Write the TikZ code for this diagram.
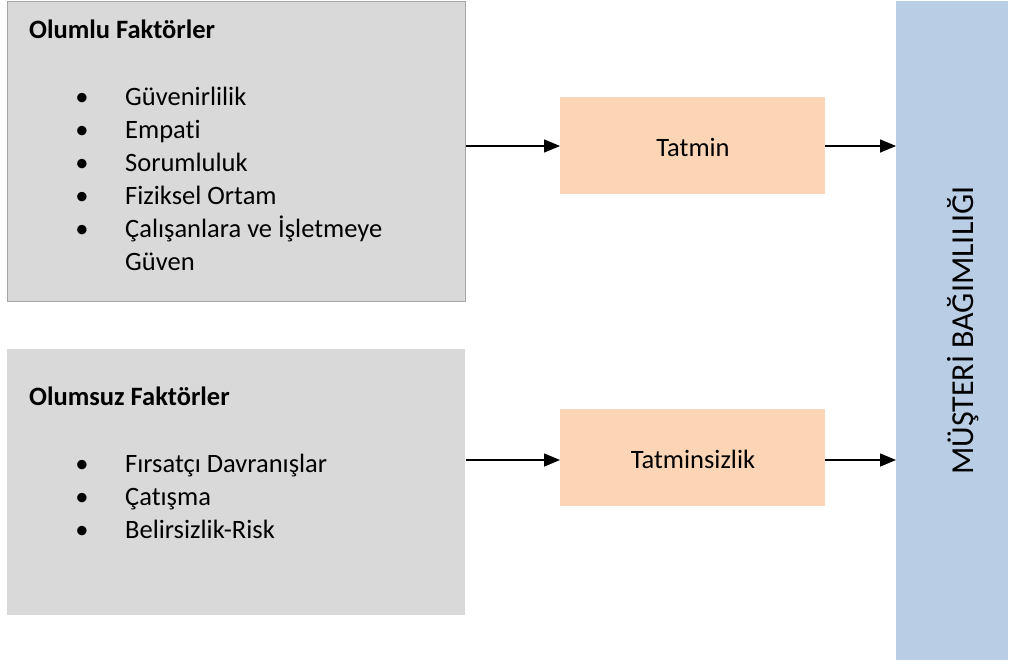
\documentclass[tikz,border=0pt]{standalone}
\usepackage{fontspec}
\setmainfont{Carlito}[Ligatures={NoCommon,NoDiscretionary,NoRare}]
\usetikzlibrary{arrows.meta}
\definecolor{graybox}{HTML}{D9D9D9}
\definecolor{grayline}{HTML}{A6A6A6}
\definecolor{peach}{HTML}{FBD5B5}
\definecolor{bluebox}{HTML}{B9CDE5}
\newcommand{\bodyfont}{\fontsize{26.5}{33}\selectfont}
\tikzset{
  factorbox/.style={fill=graybox, draw=grayline, line width=0.8pt, anchor=north west, inner sep=0pt},
  midbox/.style={fill=peach, anchor=north west, inner sep=0pt, minimum width=265pt, minimum height=97pt},
  txt/.style={font=\bodyfont, inner sep=0pt, anchor=base west},
  bul/.style={font=\bodyfont, inner sep=0pt, anchor=base},
  conn/.style={line width=1.5pt, -{Triangle[length=16pt,width=13pt]}}
}
\begin{document}
\begin{tikzpicture}[x=1pt,y=-1pt]
\useasboundingbox (0,0) rectangle (1010,664);
% boxes
\node[factorbox, minimum width=458pt, minimum height=300pt] (pos) at (7,1) {};
\node[factorbox, draw=none, minimum width=458pt, minimum height=266pt] (neg) at (7,349) {};
\node[midbox] (tat) at (560,97) {};
\node[midbox] (tats) at (560,409) {};
\node[fill=bluebox, anchor=north west, inner sep=0pt, minimum width=112pt, minimum height=659pt] (mb) at (896,1) {};
% texts
\node[txt, font=\bodyfont\bfseries] (t1) at (29,38) {Olumlu Faktörler};
\foreach \y/\t [count=\i] in {105/Güvenirlilik, 138/Empati, 171/Sorumluluk, 204/Fiziksel Ortam, 237/Çalışanlara ve İşletmeye, 270/Güven}{
  \node[txt] (p\i) at (125,\y) {\t};
}
\foreach \y [count=\i] in {105,138,171,204,237}{
  \node[bul] (pb\i) at (82,\y) {•};
}
\node[txt, font=\bodyfont\bfseries] (t2) at (29,405) {Olumsuz Faktörler};
\foreach \y/\t [count=\i] in {472/Fırsatçı Davranışlar, 505/Çatışma, 538/Belirsizlik-Risk}{
  \node[txt] (n\i) at (125,\y) {\t};
  \node[bul] (nb\i) at (82,\y) {•};
}
\node[font=\bodyfont, inner sep=0pt, anchor=base] (tl) at (693,156) {Tatmin};
\node[font=\bodyfont, inner sep=0pt, anchor=base] (tsl) at (693,468) {Tatminsizlik};
\node[font=\fontsize{32}{38}\selectfont, inner sep=0pt, rotate=90, anchor=base] (mbl) at (973,330.5) {MÜŞTERİ BAĞIMLILIĞI};
% connectors
\draw[conn] (pos.east |- 0,146) -- (tat.west |- 0,146);
\draw[conn] (tat.east |- 0,146) -- (mb.west |- 0,146);
\draw[conn] (neg.east |- 0,460) -- (tats.west |- 0,460);
\draw[conn] (tats.east |- 0,460) -- (mb.west |- 0,460);
\end{tikzpicture}
\end{document}
